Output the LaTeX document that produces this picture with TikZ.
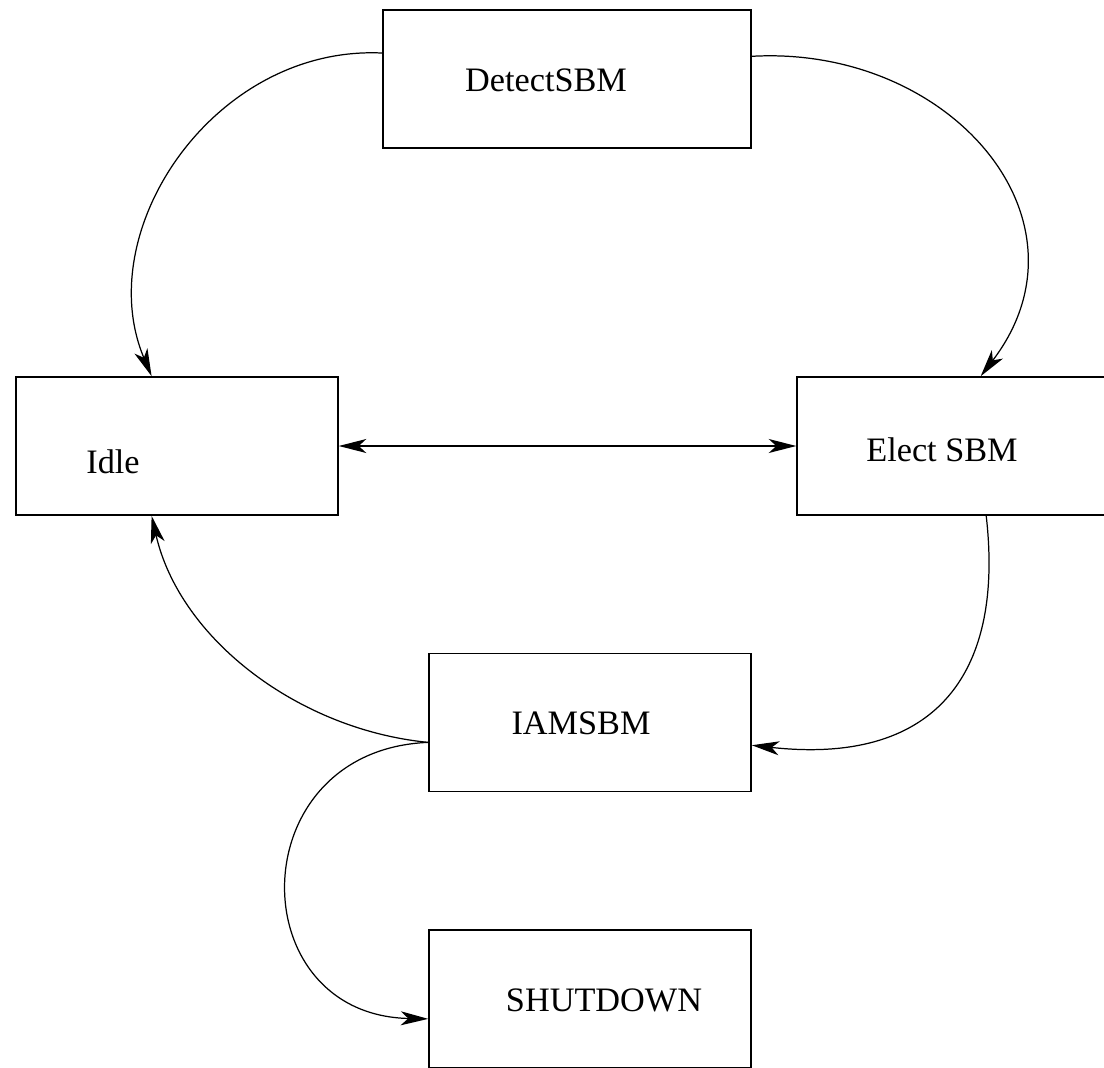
\documentclass[tikz,border=0pt]{standalone}
\usepackage{fontspec}
\setmainfont{Liberation Serif}
\usetikzlibrary{arrows.meta}

\begin{document}
\begin{tikzpicture}[x=0.02cm, y=-0.02cm,
        stato/.style={draw, line width=0.9pt, minimum width=6.44cm, minimum height=2.76cm, inner sep=0pt},
        etichetta/.style={font=\fontsize{19.5}{23}\selectfont, inner sep=0pt},
        punta/.tip={Stealth[length=0.55cm, width=0.28cm, inset=0.15cm]},
        freccia/.style={line width=0.7pt, -punta}]

        \useasboundingbox (0,0) rectangle (1104,1067);

        % =========================================
        % === STATI ===
        % =========================================

        \node[stato, minimum width=7.36cm] (detect) at (567, 79) {};
        \node[stato] (idle) at (177, 446) {};
        \node[stato] (elect) at (958, 446) {};
        \node[stato] (iam) at (590, 722.5) {};
        \node[stato] (shut) at (590, 999) {};

        % Testi (non centrati nei riquadri)
        \node[etichetta] (detectlbl) at (546, 80) {DetectSBM};
        \node[etichetta] (idlelbl) at (113, 462) {Idle};
        \node[etichetta] (electlbl) at (942, 450) {Elect SBM};
        \node[etichetta] (iamlbl) at (581, 723) {IAMSBM};
        \node[etichetta] (shutlbl) at (604, 1000) {SHUTDOWN};

        % =========================================
        % === TRANSIZIONI ===
        % =========================================

        % DetectSBM -> Idle
        \draw[freccia] (detect.172.6) .. controls (215, 45) and (90, 230) .. (idle.110);
        % DetectSBM -> Elect SBM
        \draw[freccia] (detect.7.4) .. controls (950, 45) and (1100, 220) .. (elect.72.3);

        % Idle <-> Elect SBM
        \draw[freccia, punta-punta] (idle.east) -- (elect.west);

        % Elect SBM -> IAMSBM
        \draw[freccia] (elect.-68.6) .. controls (1005, 680) and (930, 765) .. (iam.-8);
        % IAMSBM -> Idle
        \draw[freccia] (iam.187.6) .. controls (300, 730) and (180, 640) .. (idle.250);
        % IAMSBM -> SHUTDOWN
        \draw[freccia] (iam.187.6) .. controls (240, 750) and (240, 1015) .. (shut.187.4);

    \end{tikzpicture}
\end{document}
